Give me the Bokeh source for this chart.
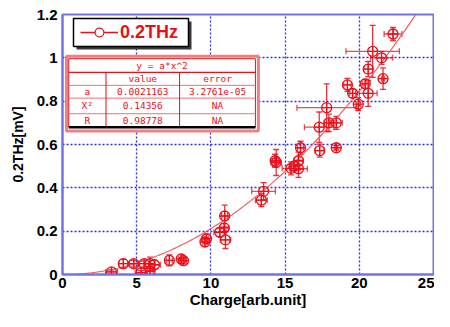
import numpy as np
from bokeh.plotting import figure
from bokeh.models import (ColumnDataSource, Whisker, TeeHead, Legend, LegendItem,
                          FixedTicker, CustomJSTickFormatter, Range1d, BoxAnnotation)
from bokeh.core.properties import value
from bokeh.embed import file_html
from bokeh.resources import INLINE

# ---------------- data ----------------
charge = [3.3, 4.1, 4.8, 5.3, 5.5, 5.9, 5.9, 6.2, 7.2, 8.0, 8.15, 9.6, 9.7,
          10.6, 10.9, 10.93, 10.98, 13.4, 13.55, 14.33, 14.4, 15.4, 15.6, 15.9, 15.9,
          16.04, 17.3, 17.33, 17.8, 17.95, 18.45, 18.45, 19.2, 19.55, 19.93, 20.4,
          20.6, 20.6, 20.9, 21.5, 21.6, 22.27]
thz = [0.012, 0.05, 0.05, 0.008, 0.05, 0.05, 0.015, 0.045, 0.065, 0.072, 0.064, 0.15, 0.165,
       0.195, 0.215, 0.27, 0.16, 0.343, 0.384, 0.525, 0.517, 0.49, 0.50, 0.488, 0.525,
       0.585, 0.68, 0.572, 0.77, 0.70, 0.70, 0.585, 0.875, 0.836, 0.786, 0.88,
       0.836, 0.948, 1.03, 1.0, 0.904, 1.11]
charge_err = [0.4, 0.3, 0.3, 0.4, 0.4, 0.3, 0.2, 0.4, 0.2, 0.2, 0.2, 0.15, 0.15,
              0.4, 0.3, 0.2, 0.35, 0.4, 0.8, 0.2, 0.35, 0.6, 0.3, 0.6, 0.3,
              0.2, 1.0, 0.3, 2.0, 0.3, 0.4, 0.1, 0.25, 0.2, 0.15, 0.2,
              0.6, 0.3, 1.8, 0.75, 0.1, 0.6]
thz_err = [0.01, 0.02, 0.015, 0.01, 0.015, 0.03, 0.02, 0.02, 0.025, 0.02, 0.015, 0.02, 0.02,
           0.02, 0.02, 0.05, 0.04, 0.03, 0.04, 0.03, 0.06, 0.03, 0.02, 0.04, 0.04,
           0.03, 0.07, 0.03, 0.11, 0.04, 0.03, 0.01, 0.03, 0.02, 0.03, 0.02,
           0.06, 0.035, 0.12, 0.03, 0.05, 0.03]

series_label = "0.2THz"
fit_a = 0.0021163              # y = a*x^2 (from the fit table)
fit_x_start, fit_x_end = 1.0, 24.0

x_ticks = [0, 5, 10, 15, 20, 25]
y_ticks = [0, 0.2, 0.4, 0.6, 0.8, 1.0, 1.2]

table_title = "y = a*x^2"
table_head = ["", "value", "error"]
table_rows = [["a", "0.0021163", "3.2761e-05"],
              ["X\u00b2", "0.14356", "NA"],
              ["R", "0.98778", "NA"]]

# ---------------- styles ----------------
RED = "#e8101a"
BLUE = "#7272ee"
GRID = "#2f2fe0"
FRAME_W, FRAME_H = 371, 260

src = ColumnDataSource(dict(
    x=charge, y=thz,
    xl=[a - b for a, b in zip(charge, charge_err)],
    xu=[a + b for a, b in zip(charge, charge_err)],
    yl=[a - b for a, b in zip(thz, thz_err)],
    yu=[a + b for a, b in zip(thz, thz_err)],
))
fx = np.linspace(fit_x_start, fit_x_end, 200)
fit_src = ColumnDataSource(dict(x=fx, y=fit_a * fx ** 2))

p = figure(frame_width=FRAME_W, frame_height=FRAME_H,
           x_range=Range1d(0, 25), y_range=Range1d(0, 1.2),
           output_backend="svg", toolbar_location=None,
           min_border_left=62, min_border_right=1, min_border_top=14, min_border_bottom=10,
           background_fill_color="white", border_fill_color="white")

# grid
p.xgrid.ticker = FixedTicker(ticks=x_ticks)
p.ygrid.ticker = FixedTicker(ticks=y_ticks)
for g in (p.xgrid, p.ygrid):
    g.grid_line_color = GRID
    g.grid_line_dash = "2 2"
    g.grid_line_width = 1.3

# axes
p.xaxis.ticker = FixedTicker(ticks=x_ticks)
p.yaxis.ticker = FixedTicker(ticks=y_ticks)
p.yaxis.formatter = CustomJSTickFormatter(code="return String(Math.round(tick*10)/10);")
for ax in (p.xaxis, p.yaxis):
    ax.axis_line_color = BLUE
    ax.axis_line_width = 2
    ax.major_tick_line_color = None
    ax.minor_tick_line_color = None
    ax.major_tick_out = 0
    ax.major_tick_in = 0
    ax.minor_tick_out = 0
    ax.minor_tick_in = 0
    ax.major_label_text_font = "Liberation Sans"
    ax.major_label_text_font_style = "bold"
    ax.major_label_text_font_size = "15px"
    ax.major_label_text_color = "black"
    ax.axis_label_text_font = "Liberation Sans"
    ax.axis_label_text_font_style = "bold"
    ax.axis_label_text_color = "black"
p.xaxis.major_label_standoff = 3
p.yaxis.major_label_standoff = 5
p.xaxis.axis_label = "Charge[arb.unit]"
p.yaxis.axis_label = "0.2THz[mV]"
p.xaxis.axis_label_text_font_size = "15px"
p.yaxis.axis_label_text_font_size = "14px"
p.xaxis.axis_label_standoff = 0
p.yaxis.axis_label_standoff = 8
p.outline_line_color = BLUE
p.outline_line_width = 2
p.outline_line_alpha = 1

# fit curve
p.line("x", "y", source=fit_src, line_color="#f06060", line_width=1.2)

# error bars
p.add_layout(Whisker(source=src, base="y", lower="xl", upper="xu", dimension="width",
                     line_color=RED, line_alpha=0.75, line_width=1.3,
                     lower_head=TeeHead(size=6, line_color=RED, line_alpha=0.75, line_width=1.3),
                     upper_head=TeeHead(size=6, line_color=RED, line_alpha=0.75, line_width=1.3)))
p.add_layout(Whisker(source=src, base="x", lower="yl", upper="yu", dimension="height",
                     line_color=RED, line_alpha=0.85, line_width=1.3,
                     lower_head=TeeHead(size=6, line_color=RED, line_alpha=0.85, line_width=1.3),
                     upper_head=TeeHead(size=6, line_color=RED, line_alpha=0.85, line_width=1.3)))

# markers
p.scatter("x", "y", source=src, marker="circle_cross", size=10,
          line_color=RED, fill_color=None, line_width=1.3)

# legend (hidden renderers used only for the legend glyph)
leg_line = p.line("x", "y", source=src, line_color=RED, line_width=1.3, visible=False)
leg_mark = p.scatter("x", "y", source=src, marker="circle", size=6, line_color=RED,
                     fill_color="white", line_width=1.2, visible=False)

# legend frame: shadow + white box with black border (frame-pixel offsets -> data)
PX = 25 / FRAME_W
PY = 1.2 / FRAME_H
BOX_L, BOX_R, BOX_T, BOX_B = 11, 126, 4, 32          # px from frame left/top
SH = 3
p.add_layout(BoxAnnotation(left=(BOX_L + SH) * PX, right=(BOX_R + SH) * PX,
                           top=1.2 - (BOX_T + SH) * PY, bottom=1.2 - (BOX_B + SH) * PY,
                           fill_color="#3a3a3a", fill_alpha=1, line_color=None))
p.add_layout(BoxAnnotation(left=BOX_L * PX, right=BOX_R * PX,
                           top=1.2 - BOX_T * PY, bottom=1.2 - BOX_B * PY,
                           fill_color="white", fill_alpha=1,
                           line_color="black", line_width=1.5, line_alpha=1))

legend = Legend(items=[LegendItem(label=series_label, renderers=[leg_line, leg_mark])],
                location=(BOX_L + 7, FRAME_H - 18 - 11), margin=0, padding=0, spacing=0,
                glyph_width=38, glyph_height=22, label_standoff=2, label_height=22,
                label_text_font="Liberation Sans", label_text_font_style="bold",
                label_text_font_size="18px", label_text_color=RED,
                label_text_baseline="middle",
                border_line_color=None, background_fill_alpha=0,
                click_policy="none")
p.add_layout(legend)

# fit table (annotation, drawn in data space)
TL, TR, TT, TB = 0.27, 13.2, 1.007, 0.662
IL, IR, IT, IB = 0.42, 13.0, 0.996, 0.680
ROW_LINES = [0.933, 0.873, 0.814, 0.742]
COL_LINES = [2.93, 7.89]
p.quad(left=[TL], right=[TR], top=[TT], bottom=[TB], fill_color="white",
       line_color="#f08080", line_width=3)
p.quad(left=[IL], right=[IR], top=[IT], bottom=[IB], fill_color=None,
       line_color=RED, line_width=1)
p.segment(x0=[IL], x1=[IR], y0=[ROW_LINES[0]], y1=[ROW_LINES[0]], line_color=RED, line_width=1.2)
p.segment(x0=[IL] * 3, x1=[IR] * 3, y0=ROW_LINES[1:], y1=ROW_LINES[1:],
          line_color="#f07070", line_width=1)
p.segment(x0=COL_LINES, x1=COL_LINES, y0=[ROW_LINES[0]] * 2, y1=[IB] * 2,
          line_color=RED, line_width=1)
p.segment(x0=[IL], x1=[IR], y0=[IB], y1=[IB], line_color="black", line_width=2.5)

COL_X = [1.67, 5.41, 10.45]
ROW_Y = [0.903, 0.843, 0.778, 0.711]
txt = dict(text_align="center", text_baseline="middle", text_color=RED,
           text_font=value("DejaVu Sans Mono"), text_font_size="9.5px")
p.text(x=[(IL + IR) / 2], y=[0.965], text=[table_title], **txt)
cells_x, cells_y, cells_t = [], [], []
for r, row in enumerate([table_head] + table_rows):
    for c, t in enumerate(row):
        if t:
            cells_x.append(COL_X[c]); cells_y.append(ROW_Y[r]); cells_t.append(t)
p.text(x=cells_x, y=cells_y, text=cells_t, **txt)

open("out.html", "w").write(file_html(p, INLINE))
